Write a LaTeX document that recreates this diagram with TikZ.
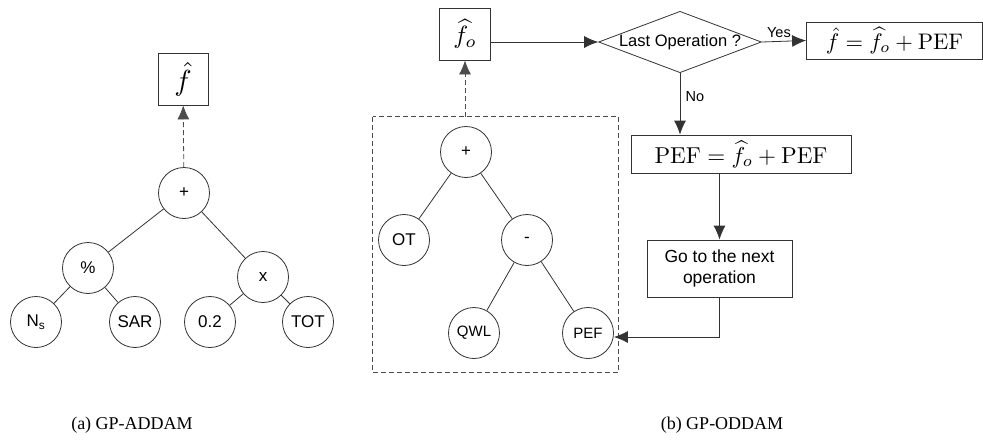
\documentclass[tikz,border=0pt]{standalone}
\usepackage{graphicx}
\usepackage{fontspec}
\setsansfont{Liberation Sans}
\newfontfamily\capfont{Liberation Serif}
\usetikzlibrary{arrows.meta,shapes.geometric}
\begin{document}
\begin{tikzpicture}[x=1pt,y=-1pt,
  line width=0.8pt, draw=black!80,
  circ/.style={circle,draw=black!80,minimum size=51pt,inner sep=0pt,font=\sffamily\fontsize{17}{17}\selectfont},
  circs/.style={circ,font=\sffamily\fontsize{15}{15}\selectfont},
  boxn/.style={draw=black!80,inner sep=2pt},
  arr/.style={-{Latex[length=14pt,width=12pt]},draw=black!80},
  edge/.style={draw=black!80},
  lbl/.style={font=\sffamily\fontsize{14.5}{14.5}\selectfont},
  dsh/.style={dashed,dash pattern=on 5pt off 3pt,draw=black!70}]
\useasboundingbox (0,0) rectangle (983,445);
% ---------- left tree ----------
\node[boxn,minimum width=50pt,minimum height=52pt] (fa) at (183,79) {\scalebox{2.9}{$\hat{f}$}};
\node[circ] (pa) at (184,193) {+};
\node[circ] (pct) at (88,268) {\%};
\node[circ] (xa) at (263,277) {x};
\node[circ] (ns) at (36,322) {N\textsubscript{s}};
\node[circ] (sar) at (135,322) {SAR};
\node[circ] (c02) at (210,322) {0.2};
\node[circ] (tot) at (308,322) {TOT};
\draw[arr,dsh] (pa) -- (fa);
\draw[edge] (pa) -- (pct);
\draw[edge] (pa) -- (xa);
\draw[edge] (pct) -- (ns);
\draw[edge] (pct) -- (sar);
\draw[edge] (xa) -- (c02);
\draw[edge] (xa) -- (tot);
% ---------- right part ----------
\node[boxn,minimum width=51pt,minimum height=52pt] (fo) at (465,34) {\scalebox{2.5}{$\widehat{f_o}$}};
\node[draw=none,minimum width=245pt,minimum height=255pt,inner sep=0pt] (dbox) at (495.5,244.5) {};
\draw[dsh] (dbox.north west) rectangle (dbox.south east);
\node[circ] (pb) at (466,152) {+};
\node[circ] (ot) at (404,240) {OT};
\node[circ] (mn) at (527,240) {-};
\node[circs] (qwl) at (474,333) {QWL};
\node[circs] (pefc) at (588,333) {PEF};
\draw[edge] (pb) -- (ot);
\draw[edge] (pb) -- (mn);
\draw[edge] (mn) -- (qwl);
\draw[edge] (mn) -- (pefc);
\draw[arr,dsh] (dbox.north -| fo.south) -- (fo.south);
% flowchart
\node[diamond,draw=black!80,aspect=2.65,minimum width=154pt,minimum height=58pt,inner sep=0pt,font=\sffamily\fontsize{16.5}{16.5}\selectfont] (dec) at (680,42) {Last Operation ?};
\node[boxn,minimum width=176pt,minimum height=37pt] (res) at (894.5,40.5) {\scalebox{2.25}{$\hat{f}=\widehat{f_o}+\mathrm{PEF}$}};
\node[boxn,minimum width=220pt,minimum height=38pt] (pefb) at (741,154) {\scalebox{2.3}{$\mathrm{PEF}=\widehat{f_o}+\mathrm{PEF}$}};
\node[boxn,minimum width=145pt,minimum height=57pt,align=center,font=\sffamily\fontsize{17.5}{21}\selectfont] (go) at (719.5,268.5) {Go to the next\\operation};
\draw[arr] ([yshift=-8pt]fo.east) -- (dec.west);
\draw[arr] (dec.east) -- node[above,lbl,yshift=0pt,xshift=-5pt] {Yes} (res.west);
\draw[arr] (dec.south) -- node[right,lbl,pos=0.38,xshift=2pt] {No} (dec.south |- pefb.north);
\draw[arr] (go.north |- pefb.south) -- (go.north);
\draw[arr] (go.south) |- ([yshift=-4pt]pefc.east);
% captions
\node[font=\capfont\fontsize{18}{18}\selectfont] (capa) at (132,425) {(a) GP-ADDAM};
\node[font=\capfont\fontsize{18}{18}\selectfont] (capb) at (722,425) {(b) GP-ODDAM};
\end{tikzpicture}
\end{document}
